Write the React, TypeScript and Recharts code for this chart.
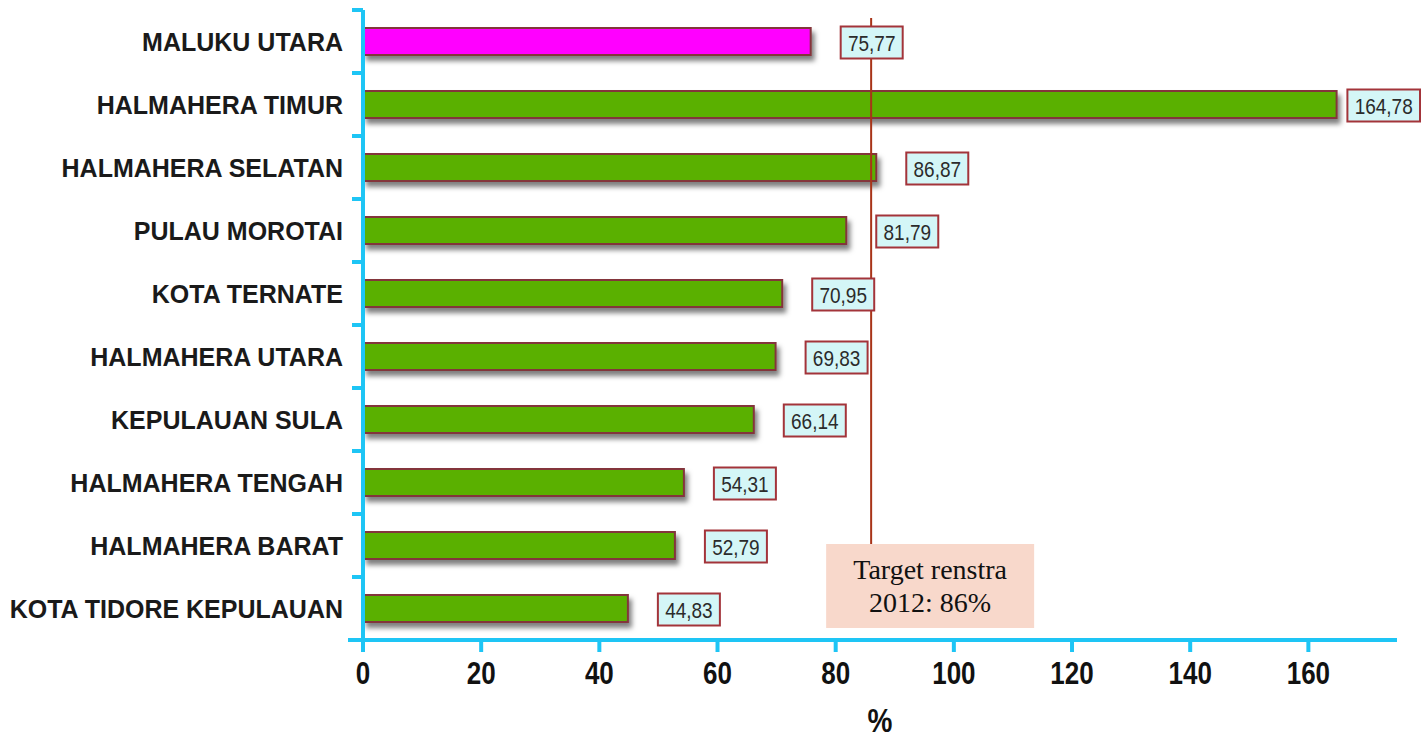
import React from "react";
import {
  BarChart,
  Bar,
  XAxis,
  YAxis,
  Cell,
  LabelList,
  ReferenceLine
} from "recharts";

// chart data
const regions = [
  "MALUKU UTARA",
  "HALMAHERA TIMUR",
  "HALMAHERA SELATAN",
  "PULAU MOROTAI",
  "KOTA TERNATE",
  "HALMAHERA UTARA",
  "KEPULAUAN SULA",
  "HALMAHERA TENGAH",
  "HALMAHERA BARAT",
  "KOTA TIDORE KEPULAUAN"
];
const percentages = [75.77, 164.78, 86.87, 81.79, 70.95, 69.83, 66.14, 54.31, 52.79, 44.83];
const xTicks = [0, 20, 40, 60, 80, 100, 120, 140, 160];
const target = 86;
const targetText = ["Target renstra", "2012: 86%"];

const data = regions.map((name, i) => ({ name, value: percentages[i] }));

const AXIS = "#1ec5f5";
const SANS = "'Liberation Sans', Arial, sans-serif";
const SERIF = "'Liberation Serif', serif";
const BAND = 63;

const CategoryTick = (props: any) => {
  const { x, y, payload, index } = props;
  return (
    <g>
      <line x1={x - 11} y1={y - BAND / 2} x2={x} y2={y - BAND / 2} stroke={AXIS} strokeWidth={4} />
      {index === regions.length - 1 && (
        <line x1={x - 15} y1={y + BAND / 2} x2={x} y2={y + BAND / 2} stroke={AXIS} strokeWidth={4} />
      )}
      <text x={x - 20} y={y + 9} textAnchor="end" fontFamily={SANS} fontWeight="bold" fontSize={25} fill="#1a1a1a">
        {payload.value}
      </text>
    </g>
  );
};

const NumberTick = (props: any) => {
  const { x, payload } = props;
  return (
    <text
      transform={`translate(${x}, 684) scale(1, 1.2)`}
      textAnchor="middle"
      fontFamily={SANS}
      fontWeight="bold"
      fontSize={26}
      fill="#111"
    >
      {payload.value}
    </text>
  );
};

const ValueBox = (props: any) => {
  const { x, y, width, height, value } = props;
  const txt = Number(value).toFixed(2).replace(".", ",");
  const w = txt.length * 10.6 + 9;
  let bx = x + width + 30;
  if (bx + w > 1420) bx = 1420 - w;
  const cy = y + height / 2 + 1;
  return (
    <g>
      <rect x={bx} y={cy - 16} width={w} height={32} fill="#d4f6f7" stroke="#a3343a" strokeWidth={2} />
      <text
        transform={`translate(${bx + w / 2}, ${cy + 8}) scale(1, 1.2)`}
        textAnchor="middle"
        fontFamily={SANS}
        fontSize={19}
        fill="#2b2b2b"
      >
        {txt}
      </text>
    </g>
  );
};

const BarShape = (props: any) => {
  const { x, y, width, height, fill } = props;
  return (
    <rect
      x={x + 1}
      y={y}
      width={Math.max(width - 1, 0)}
      height={height}
      fill={fill}
      stroke="#83363a"
      strokeWidth={2}
      filter="url(#barShadow)"
    />
  );
};

// target line with its note box drawn on top of the line
const TargetLine = (props: any) => {
  const { x1, y1, y2 } = props;
  const top = Math.min(y1, y2);
  const bottom = Math.max(y1, y2);
  const bx = x1 - 45;
  return (
    <g>
      <line x1={x1} y1={top + 8} x2={x1} y2={bottom - 96} stroke="#a83418" strokeWidth={2} />
      <rect x={bx} y={bottom - 96} width={208} height={84} fill="#f8d8cb" />
      <text x={bx + 104} y={bottom - 61} textAnchor="middle" fontFamily={SERIF} fontSize={28} fill="#111">
        {targetText[0]}
      </text>
      <text x={bx + 104} y={bottom - 28} textAnchor="middle" fontFamily={SERIF} fontSize={28} fill="#111">
        {targetText[1]}
      </text>
    </g>
  );
};

export default function App() {
  return (
    <div style={{ position: "absolute", left: 0, top: 0, background: "#fff" }}>
      <BarChart
        width={1423}
        height={740}
        data={data}
        layout="vertical"
        margin={{ top: 10, right: 26, bottom: 0, left: 0 }}
      >
        <defs>
          <filter id="barShadow" x="-5%" y="-30%" width="115%" height="190%">
            <feDropShadow dx={3} dy={5} stdDeviation={2.5} floodColor="#000" floodOpacity={0.5} />
          </filter>
        </defs>
        <XAxis
          type="number"
          domain={[0, 175]}
          ticks={xTicks}
          height={100}
          axisLine={{ stroke: AXIS, strokeWidth: 4 }}
          tickLine={{ stroke: AXIS, strokeWidth: 4 }}
          tickSize={12}
          tick={<NumberTick />}
          label={() => (
            <text
              transform={`translate(880, 732) scale(1, 1.2)`}
              textAnchor="middle"
              fontFamily={SANS}
              fontWeight="bold"
              fontSize={28}
              fill="#111"
            >
              %
            </text>
          )}
        />
        <YAxis
          type="category"
          dataKey="name"
          width={363}
          axisLine={{ stroke: AXIS, strokeWidth: 4 }}
          tickLine={false}
          tickSize={0}
          tickMargin={0}
          tick={<CategoryTick />}
          interval={0}
        />
        <Bar dataKey="value" barSize={27} isAnimationActive={false} shape={<BarShape />}>
          {data.map((d, i) => (
            <Cell key={d.name} fill={i === 0 ? "#ff00ff" : "#5ab000"} />
          ))}
          <LabelList dataKey="value" content={<ValueBox />} />
        </Bar>
        <ReferenceLine x={target} shape={(p: any) => <TargetLine {...p} />} />
      </BarChart>
    </div>
  );
}
